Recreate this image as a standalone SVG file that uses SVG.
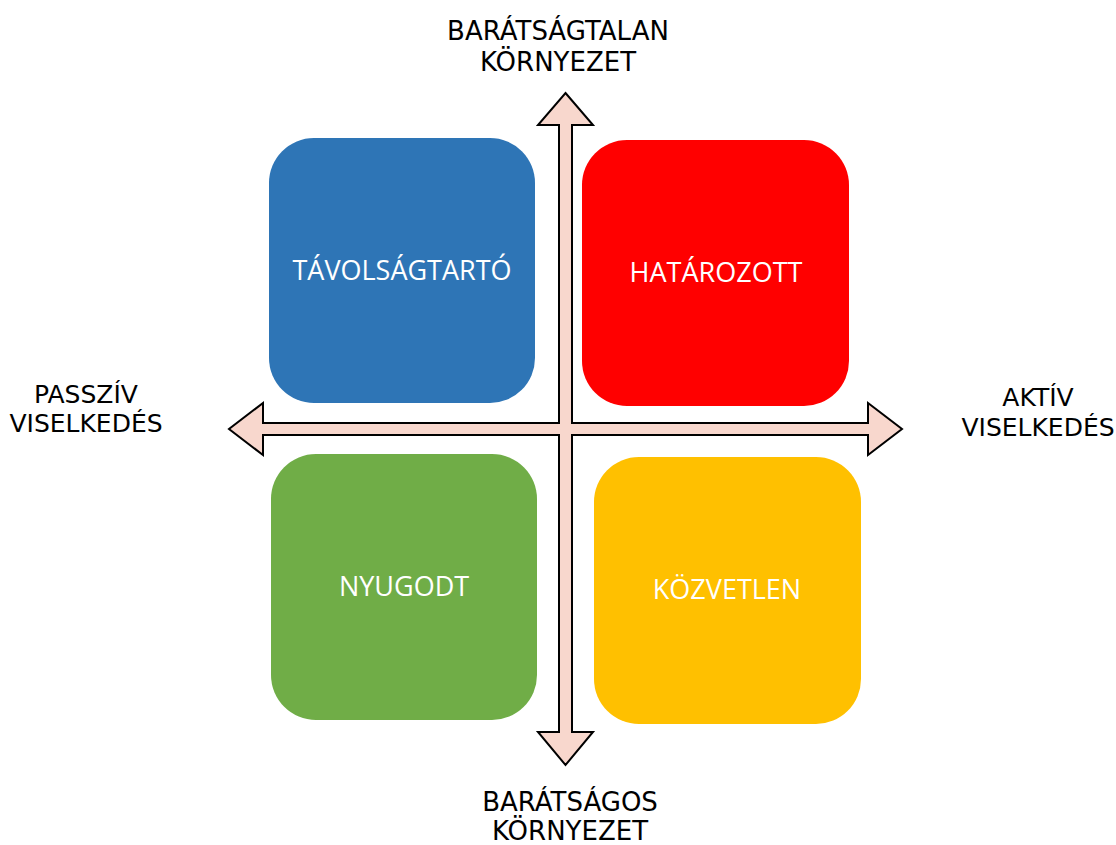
<svg xmlns="http://www.w3.org/2000/svg" width="1116" height="845" viewBox="0 0 1116 845">
<style>
.box{stroke:none}
.bt{font-family:"Open Sans","Noto Sans",sans-serif;font-size:27px;fill:#ffffff;text-anchor:middle}
.ax{font-family:"DejaVu Sans",Verdana,sans-serif;font-size:26px;fill:#000000;text-anchor:middle}
.ax2{font-family:"DejaVu Sans",Verdana,sans-serif;font-size:25px;fill:#000000;text-anchor:middle}
.arrow{fill:#F8D7CD;stroke:#000000;stroke-width:2;stroke-linejoin:miter}
</style>
<rect width="1116" height="845" fill="#ffffff"/>
<g id="connectors">
<polygon class="arrow" points="565.5,93 593,125 572,125 572,423 868,423 868,403 902,429 868,455 868,435 572,435 572,732 593,732 565.5,765 538,732 559,732 559,435 263,435 263,455 229,429 263,403 263,423 559,423 559,125 538,125"/>
</g>
<g id="node-tavolsagtarto">
<rect class="box" x="269" y="138" width="266" height="265" rx="45" fill="#2E75B6"/>
<text class="bt" x="402" y="280">TÁVOLSÁGTARTÓ</text>
</g>
<g id="node-hatarozott">
<rect class="box" x="582" y="140" width="267" height="266" rx="45" fill="#FF0000"/>
<text class="bt" x="716" y="282">HATÁROZOTT</text>
</g>
<g id="node-nyugodt">
<rect class="box" x="271" y="454" width="266" height="266" rx="45" fill="#70AD47"/>
<text class="bt" x="404" y="596">NYUGODT</text>
</g>
<g id="node-kozvetlen">
<rect class="box" x="594" y="457" width="267" height="267" rx="45" fill="#FFC000"/>
<text class="bt" x="727" y="599">KÖZVETLEN</text>
</g>
<g id="label-top">
<text class="ax" x="558" y="40">BARÁTSÁGTALAN</text>
<text class="ax" x="558" y="71">KÖRNYEZET</text>
</g>
<g id="label-bottom">
<text class="ax" x="570" y="811">BARÁTSÁGOS</text>
<text class="ax" x="570" y="840">KÖRNYEZET</text>
</g>
<g id="label-left">
<text class="ax2" x="86" y="403">PASSZÍV</text>
<text class="ax2" x="86" y="432">VISELKEDÉS</text>
</g>
<g id="label-right">
<text class="ax2" x="1038" y="406">AKTÍV</text>
<text class="ax2" x="1038" y="436">VISELKEDÉS</text>
</g>
</svg>
